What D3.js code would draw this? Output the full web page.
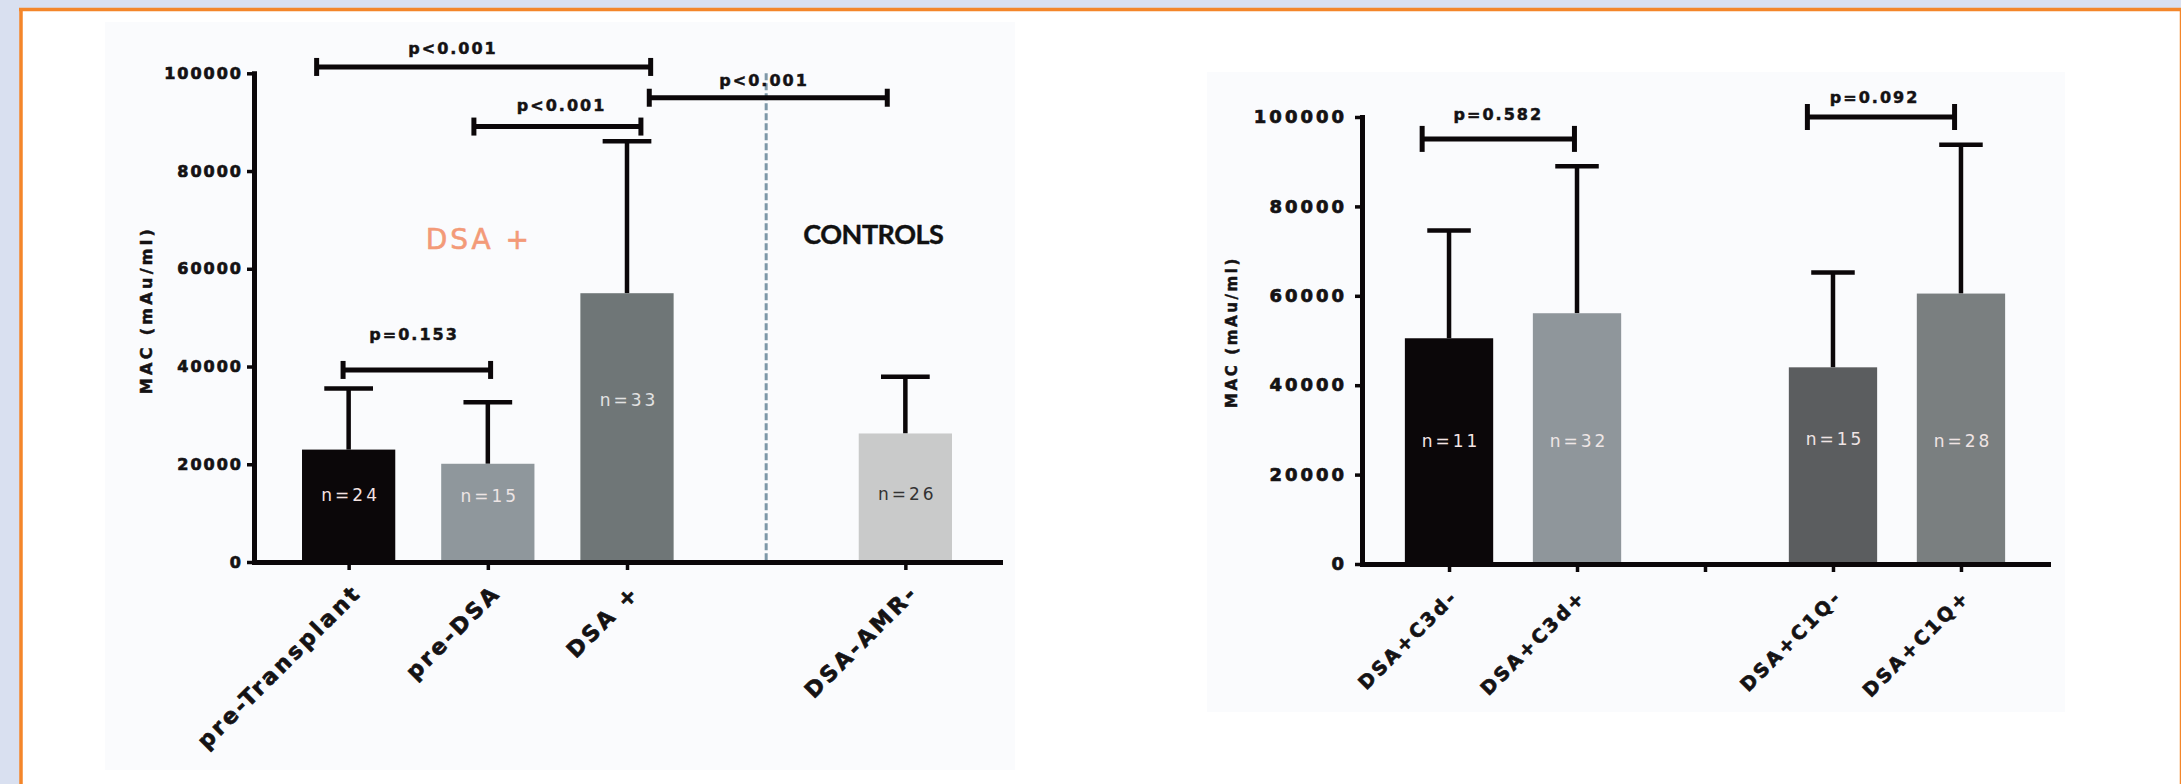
<!DOCTYPE html>
<html>
<head>
<meta charset="utf-8">
<script src="https://cdn.jsdelivr.net/npm/d3@7"></script>
<style>
  body { margin: 0; background: #d9e0f0; }
  svg { display: block; }
  text { font-family: "DejaVu Sans", sans-serif; }
</style>
</head>
<body>
<svg id="chart" width="2181" height="784"></svg>
<script>
// ---- data: left panel ----
const leftSlots = ["pre-Transplant", "pre-DSA", "DSA +", "gap", "DSA-AMR-"];
const leftCategories = ["pre-Transplant", "pre-DSA", "DSA +", "DSA-AMR-"];
const leftMeans = [23000, 20100, 55000, 26300];
const leftSD = [12500, 12600, 31100, 11600];
const leftN = [24, 15, 33, 26];
const leftNLabelAt = [13700, 13400, 33200, 14000];
const leftColors = ["#0b0709", "#8f979c", "#6f7677", "#c9caca"];
const leftNColors = ["#f3e2e2", "#ece4e4", "#e2e2e2", "#333333"];

// ---- data: right panel ----
const rightSlots = ["DSA+C3d-", "DSA+C3d+", "gap", "DSA+C1Q-", "DSA+C1Q+"];
const rightCategories = ["DSA+C3d-", "DSA+C3d+", "DSA+C1Q-", "DSA+C1Q+"];
const rightMeans = [50500, 56100, 44000, 60500];
const rightSD = [24100, 32900, 21200, 33300];
const rightN = [11, 32, 15, 28];
const rightNLabelAt = [27500, 27500, 28000, 27500];
const rightColors = ["#0b0709", "#8f969b", "#5b5d5f", "#7a7f80"];
const rightNColors = ["#f3e4e4", "#eee6e6", "#efe4e4", "#efe4e4"];

const yTicks = [0, 20000, 40000, 60000, 80000, 100000];

// significance brackets: [from, to, value, label]
const leftBrackets = [
  ["pre-Transplant", "DSA +", 101300, "p<0.001"],
  ["pre-DSA", "DSA +", 89100, "p<0.001"],
  ["DSA +", "DSA-AMR-", 95000, "p<0.001"],
  ["pre-Transplant", "pre-DSA", 39300, "p=0.153"]
];
const rightBrackets = [
  ["DSA+C3d-", "DSA+C3d+", 95100, "p=0.582"],
  ["DSA+C1Q-", "DSA+C1Q+", 100000, "p=0.092"]
];
// nudges (fraction of a category step) and text gap in px
const leftBracketStyle = [
  {da: -0.23, db: 0.17, tdx: -0.22, gap: 13},
  {da: -0.10, db: 0.10, tdx: 0.03, gap: 16},
  {da: 0.16, db: -0.13, tdx: -0.03, gap: 12},
  {da: -0.04, db: 0.02, tdx: -0.02, gap: 30}
];
const rightBracketStyle = [
  {da: -0.21, db: -0.02, tdx: 0, gap: 19},
  {da: -0.20, db: -0.05, tdx: -0.05, gap: 14}
];

const ink = "#141214";
const svg = d3.select("#chart");

// page frame
svg.append("rect").attr("x", 21).attr("y", 10).attr("width", 2160).attr("height", 774).attr("fill", "#ffffff");
svg.append("line").attr("x1", 19).attr("x2", 2181).attr("y1", 9.5).attr("y2", 9.5)
  .attr("stroke", "#f4862a").attr("stroke-width", 3.5);
svg.append("line").attr("x1", 21).attr("x2", 21).attr("y1", 8).attr("y2", 784)
  .attr("stroke", "#f4862a").attr("stroke-width", 3.5);
svg.append("line").attr("x1", 2180.5).attr("x2", 2180.5).attr("y1", 8).attr("y2", 784)
  .attr("stroke", "#f4862a").attr("stroke-width", 1.5);

// make a text selection a little heavier, like the scanned figure
function heavy(sel, col, w) {
  sel.attr("fill", col).attr("stroke", col).attr("stroke-width", w).attr("paint-order", "stroke");
}

function drawPanel(cfg) {
  const g = svg.append("g");

  g.append("rect")
    .attr("x", cfg.bg[0]).attr("y", cfg.bg[1]).attr("width", cfg.bg[2]).attr("height", cfg.bg[3])
    .attr("fill", "#fafbfd");

  const x = d3.scalePoint().domain(cfg.slots).range(cfg.xRange).padding(0.68);
  const y = d3.scaleLinear().domain([0, 100000]).range(cfg.yRange);
  const step = x.step();
  const bw = step * cfg.barFrac;
  const capHalf = step * cfg.capFrac;

  const rows = cfg.cats.map((c, i) => ({
    cat: c, mean: cfg.means[i], sd: cfg.sd[i], n: cfg.n[i],
    nAt: cfg.nAt[i], color: cfg.colors[i], nColor: cfg.nColors[i]
  }));

  // error bars (upper only)
  const eb = g.selectAll(".err").data(rows).join("g").attr("class", "err")
    .attr("stroke", "#0b0709").attr("stroke-width", 4.5);
  eb.append("line")
    .attr("x1", d => x(d.cat)).attr("x2", d => x(d.cat))
    .attr("y1", d => y(d.mean)).attr("y2", d => y(d.mean + d.sd));
  eb.append("line")
    .attr("x1", d => x(d.cat) - capHalf).attr("x2", d => x(d.cat) + capHalf)
    .attr("y1", d => y(d.mean + d.sd)).attr("y2", d => y(d.mean + d.sd));

  // bars
  g.selectAll(".bar").data(rows).join("rect").attr("class", "bar")
    .attr("x", d => x(d.cat) - bw / 2)
    .attr("width", bw)
    .attr("y", d => y(d.mean))
    .attr("height", d => y(0) - y(d.mean))
    .attr("fill", d => d.color);

  // n labels
  g.selectAll(".nlab").data(rows).join("text").attr("class", "nlab")
    .attr("x", d => x(d.cat) + 2)
    .attr("y", d => y(d.nAt))
    .attr("dy", "0.35em")
    .attr("text-anchor", "middle")
    .style("font-size", "17px")
    .style("letter-spacing", "3px")
    .attr("fill", d => d.nColor)
    .text(d => "n=" + d.n);

  // dashed separator
  if (cfg.dashed) {
    g.append("line")
      .attr("x1", x("gap")).attr("x2", x("gap"))
      .attr("y1", y(100000)).attr("y2", y(0))
      .attr("stroke", "#7e98a8").attr("stroke-width", 3)
      .attr("stroke-dasharray", "7,3");
  }

  // y axis
  const yAxis = d3.axisLeft(y).tickValues(yTicks).tickSize(7).tickSizeOuter(0)
    .tickPadding(cfg.tickPad).tickFormat(d3.format("d"));
  const ya = g.append("g").attr("transform", `translate(${cfg.xRange[0]},0)`).call(yAxis);
  ya.select(".domain").attr("stroke", "#0b0709").attr("stroke-width", 5).attr("stroke-linecap", "square");
  ya.selectAll(".tick line").attr("stroke", "#0b0709").attr("stroke-width", 3.5);
  ya.selectAll(".tick text")
    .style("font-family", "'DejaVu Sans', sans-serif")
    .style("font-weight", "bold")
    .style("font-size", cfg.tickFont + "px")
    .style("letter-spacing", cfg.tickSpacing + "px")
    .call(heavy, ink, 0.7);

  // x axis
  const xAxis = d3.axisBottom(x).tickValues(cfg.xTickSlots).tickSize(8).tickSizeOuter(0).tickFormat("");
  const xa = g.append("g").attr("transform", `translate(0,${y(0)})`).call(xAxis);
  xa.select(".domain").attr("stroke", "#0b0709").attr("stroke-width", 5).attr("stroke-linecap", "square");
  xa.selectAll(".tick line").attr("stroke", "#0b0709").attr("stroke-width", 3.5);

  // rotated category labels
  g.selectAll(".xlab").data(rows).join("text").attr("class", "xlab")
    .attr("transform", d => `translate(${x(d.cat) + cfg.labDx},${y(0) + cfg.labDy}) rotate(-45)`)
    .attr("text-anchor", "end")
    .style("font-weight", "bold")
    .style("font-size", cfg.labFont + "px")
    .style("letter-spacing", cfg.labSpacing + "px")
    .text(d => d.cat)
    .call(heavy, ink, 0.7);

  // y title
  g.append("text")
    .attr("transform", `translate(${cfg.titleX},${cfg.titleY}) rotate(-90)`)
    .attr("text-anchor", "middle")
    .style("font-weight", "bold")
    .style("font-size", cfg.titleFont + "px")
    .style("letter-spacing", cfg.titleSpacing + "px")
    .text("MAC (mAu/ml)")
    .call(heavy, ink, 0.5);

  // brackets
  cfg.brackets.forEach((b, i) => {
    const s = cfg.bracketStyle[i];
    const xa0 = x(b[0]) + s.da * step;
    const xb0 = x(b[1]) + s.db * step;
    const yy = y(b[2]);
    const bg = g.append("g").attr("stroke", "#0b0709").attr("stroke-width", 5);
    bg.append("line").attr("x1", xa0).attr("x2", xb0).attr("y1", yy).attr("y2", yy);
    bg.append("line").attr("x1", xa0).attr("x2", xa0).attr("y1", yy - cfg.capH).attr("y2", yy + cfg.capH);
    bg.append("line").attr("x1", xb0).attr("x2", xb0).attr("y1", yy - cfg.capH).attr("y2", yy + cfg.capH);
    g.append("text")
      .attr("x", (xa0 + xb0) / 2 + s.tdx * step)
      .attr("y", yy - s.gap)
      .attr("text-anchor", "middle")
      .style("font-weight", "bold")
      .style("font-size", "16px")
      .style("letter-spacing", "2px")
      .text(b[3])
      .call(heavy, ink, 0.5);
  });

  return {x, y, g};
}

const left = drawPanel({
  slots: leftSlots, cats: leftCategories, means: leftMeans, sd: leftSD, n: leftN,
  nAt: leftNLabelAt, colors: leftColors, nColors: leftNColors,
  xRange: [254, 1000], yRange: [562, 73.3], bg: [105, 22, 910, 748],
  barFrac: 0.67, capFrac: 0.175, dashed: true,
  xTickSlots: leftCategories,
  tickPad: 4, tickFont: 16, tickSpacing: 2,
  labDx: 14, labDy: 32, labFont: 22, labSpacing: 3,
  titleX: 152, titleY: 310, titleFont: 16, titleSpacing: 3.3,
  brackets: leftBrackets, bracketStyle: leftBracketStyle, capH: 9
});

// panel headings
left.g.append("text")
  .attr("x", left.x("pre-DSA") - 9).attr("y", left.y(64000))
  .attr("text-anchor", "middle")
  .style("font-size", "28px").style("letter-spacing", "3px")
  .text("DSA +")
  .call(heavy, "#f39a78", 0.6);
left.g.append("text")
  .attr("x", left.x("DSA-AMR-") - 32).attr("y", left.y(65000))
  .attr("text-anchor", "middle")
  .style("font-family", "Lato, sans-serif").style("font-weight", "bold")
  .style("font-size", "27px").style("letter-spacing", "-0.5px")
  .text("CONTROLS")
  .call(heavy, "#111111", 0.4);

drawPanel({
  slots: rightSlots, cats: rightCategories, means: rightMeans, sd: rightSD, n: rightN,
  nAt: rightNLabelAt, colors: rightColors, nColors: rightNColors,
  xRange: [1362, 2048], yRange: [564, 117], bg: [1207, 72, 858, 640],
  barFrac: 0.69, capFrac: 0.17, dashed: false,
  xTickSlots: rightSlots,
  tickPad: 8, tickFont: 18, tickSpacing: 3,
  labDx: 10, labDy: 34, labFont: 19, labSpacing: 2.8,
  titleX: 1237, titleY: 332, titleFont: 15, titleSpacing: 2.6,
  brackets: rightBrackets, bracketStyle: rightBracketStyle, capH: 13
});
</script>
</body>
</html>
